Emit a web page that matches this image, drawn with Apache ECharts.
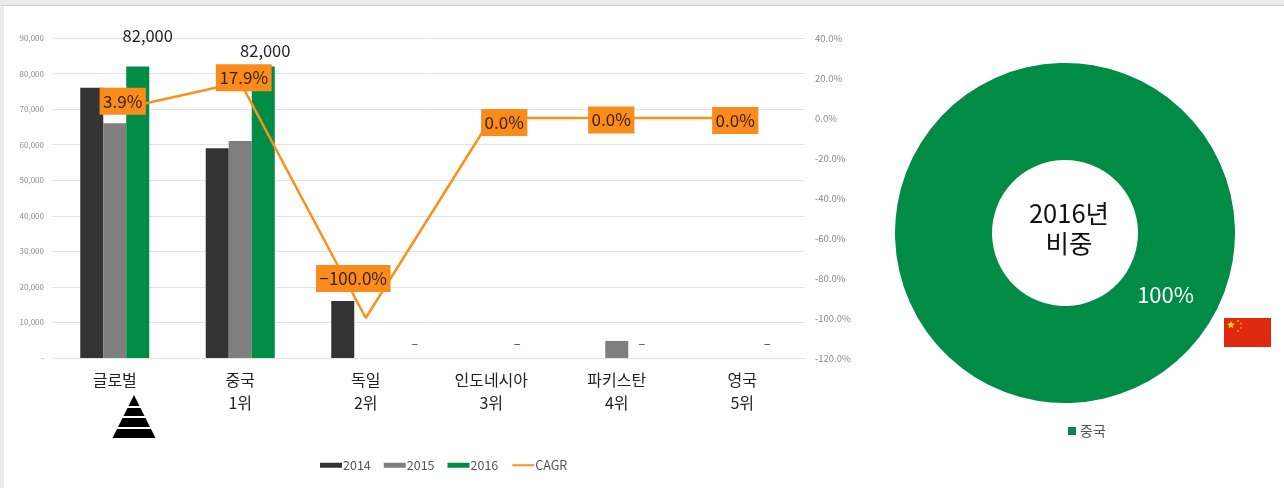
<!DOCTYPE html>
<html>
<head>
<meta charset="utf-8">
<style>
  html, body { margin: 0; padding: 0; background: #ebebeb; }
  #top { position: absolute; left: 0; top: 5px; width: 1284px; height: 1px; background: #d2d2d2; }
  #chart { position: absolute; left: 4px; top: 6px; width: 1280px; height: 482px; background: #fff; }
</style>
<script src="https://cdn.jsdelivr.net/npm/echarts@6/dist/echarts.min.js"></script>
</head>
<body>
<div id="top"></div>
<div id="chart"></div>
<script>
// 국가별 비교 + 2016년 비중
var categories = ['글로벌', '중국\n1위', '독일\n2위', '인도네시아\n3위', '파키스탄\n4위', '영국\n5위'];
var values2014 = [76000, 59000, 16000, 0, 0, 0];
var values2015 = [66000, 61000, 0, 0, 4800, 0];
var values2016 = [82000, 82000, 0, 0, 0, 0];
var cagr = [3.9, 17.9, -100, 0, 0, 0];
var shareNames = ['중국'];
var shareValues = [100];

var FONT = '"Noto Sans CJK KR", "Noto Sans", sans-serif';
var ORANGE = '#f7921e';
var LABEL_BG = '#fb8c1c';
var GREEN = '#008c45';

// 라벨 위치 보정 (px)
var cagrOffsets = [[8, -9], [3.5, -4.5], [-12.5, -39.5], [13, 4.5], [-5.5, 2], [-7, 2.5]];
var totalOffsets = [[10, -17], [2, -2], [26, 0], [3, 0], [2, 0], [2, 0]];

function fmtNum(v) {
  return v === 0 ? '–' : String(v).replace(/\B(?=(\d{3})+$)/g, ',');
}

function starPoints(cx, cy, r) {
  var pts = [];
  for (var i = 0; i < 10; i++) {
    var rr = i % 2 ? r * 0.4 : r;
    var a = -Math.PI / 2 + i * Math.PI / 5;
    pts.push([cx + rr * Math.cos(a), cy + rr * Math.sin(a)]);
  }
  return pts;
}

// 피라미드 한 층: 폭은 꼭대기(y=395)에서 내려온 만큼
function band(top, bottom) {
  var cx = 134, y0 = 395;
  return {
    type: 'polygon',
    x: -4, y: -6,
    shape: { points: [
      [cx - (top - y0) / 2, top], [cx + (top - y0) / 2, top],
      [cx + (bottom - y0) / 2, bottom], [cx - (bottom - y0) / 2, bottom]
    ] },
    style: { fill: '#000' }
  };
}

function star(cx, cy, r) {
  return { type: 'polygon', x: -4, y: -6, z: 11, shape: { points: starPoints(cx, cy, r) }, style: { fill: '#ffde00' } };
}

var chart = echarts.init(document.getElementById('chart'));

chart.setOption({
  animation: false,
  textStyle: { fontFamily: FONT },
  legend: [
    {
      data: [
        { name: '2014', icon: 'rect' },
        { name: '2015', icon: 'rect' },
        { name: '2016', icon: 'rect' },
        { name: 'CAGR', itemStyle: { opacity: 0 }, lineStyle: { width: 2 } }
      ],
      left: 311,
      top: 448,
      itemWidth: 22,
      itemHeight: 5,
      itemGap: 13,
      selectedMode: false,
      textStyle: { fontSize: 12.5, color: '#555', fontFamily: FONT, padding: [0, 0, 0, -4] }
    },
    {
      data: [{ name: '중국', icon: 'rect' }],
      left: 1059,
      top: 413,
      itemWidth: 8,
      itemHeight: 8,
      selectedMode: false,
      textStyle: { fontSize: 14, color: '#555', fontFamily: FONT, padding: [0, 0, 0, -1] }
    }
  ],
  grid: { left: 48, right: 479, top: 32, bottom: 130, containLabel: false },
  xAxis: {
    type: 'category',
    data: categories,
    axisTick: { show: false },
    axisLine: { lineStyle: { color: '#e4e4e4' } },
    axisLabel: { fontSize: 16, color: '#222', lineHeight: 23, margin: 10, interval: 0, fontFamily: FONT }
  },
  yAxis: [
    {
      type: 'value',
      min: 0,
      max: 90000,
      interval: 10000,
      axisLine: { show: false },
      axisTick: { show: false },
      splitLine: { lineStyle: { color: '#e4e4e4' } },
      axisLabel: {
        fontSize: 8,
        color: '#8a8a8a',
        margin: 8,
        formatter: function (v) { return v === 0 ? '-' : fmtNum(v); }
      }
    },
    {
      type: 'value',
      min: -120,
      max: 40,
      interval: 20,
      axisLine: { show: false },
      axisTick: { show: false },
      splitLine: { show: false },
      axisLabel: {
        fontSize: 9.5,
        color: '#8a8a8a',
        margin: 10,
        formatter: function (v) { return v.toFixed(1) + '%'; }
      }
    }
  ],
  series: [
    { name: '2014', type: 'bar', data: values2014, barWidth: 23, barGap: 0, itemStyle: { color: '#333333' } },
    { name: '2015', type: 'bar', data: values2015, barWidth: 23, barGap: 0, itemStyle: { color: '#7f7f7f' } },
    {
      name: '2016',
      type: 'bar',
      data: values2016.map(function (v, i) {
        var big = v > 0;
        return {
          value: v,
          label: {
            show: true,
            position: 'top',
            offset: totalOffsets[i],
            formatter: fmtNum(v),
            fontSize: big ? 16.5 : 13,
            color: big ? '#222' : '#444',
            distance: big ? 5 : 8
          }
        };
      }),
      barWidth: 23,
      barGap: 0,
      itemStyle: { color: GREEN },
      z: 2
    },
    {
      name: 'CAGR',
      type: 'line',
      yAxisIndex: 1,
      data: cagr.map(function (v, i) {
        return {
          value: v,
          label: {
            show: true,
            position: 'inside',
            offset: cagrOffsets[i],
            formatter: v.toFixed(1).replace('-', '−') + '%',
            fontSize: 17,
            color: '#3a2208',
            backgroundColor: LABEL_BG,
            padding: [5, 3.5]
          }
        };
      }),
      symbol: 'circle',
      symbolSize: 0,
      showSymbol: true,
      lineStyle: { color: ORANGE, width: 2.5 },
      itemStyle: { color: ORANGE },
      z: 5
    },
    {
      name: '비중',
      type: 'pie',
      center: [1061, 227],
      radius: [73, 170],
      silent: true,
      startAngle: 148,
      data: shareNames.map(function (n, i) { return { name: n, value: shareValues[i] }; }),
      itemStyle: { color: GREEN },
      label: {
        show: true,
        position: 'inside',
        formatter: '{d}%',
        fontSize: 22,
        color: '#fff',
        offset: [-5, -4]
      },
      labelLine: { show: false }
    }
  ],
  graphic: [
    band(395, 406),
    band(408, 416),
    band(418, 427),
    band(429, 438),
    { type: 'rect', x: -4, y: -6, z: 10, shape: { x: 1224, y: 318, width: 47, height: 29 }, style: { fill: '#de2910' } },
    star(1231, 325, 4.4),
    star(1238, 321, 1.3),
    star(1241, 323.5, 1.3),
    star(1241, 328, 1.3),
    star(1238, 331, 1.3),
    {
      type: 'text',
      z: 100,
      x: 1065,
      y: 192,
      style: { text: '2016년\n비중', fill: '#111', font: '25.5px ' + FONT, align: 'center', lineHeight: 30 }
    }
  ]
});
</script>
</body>
</html>
